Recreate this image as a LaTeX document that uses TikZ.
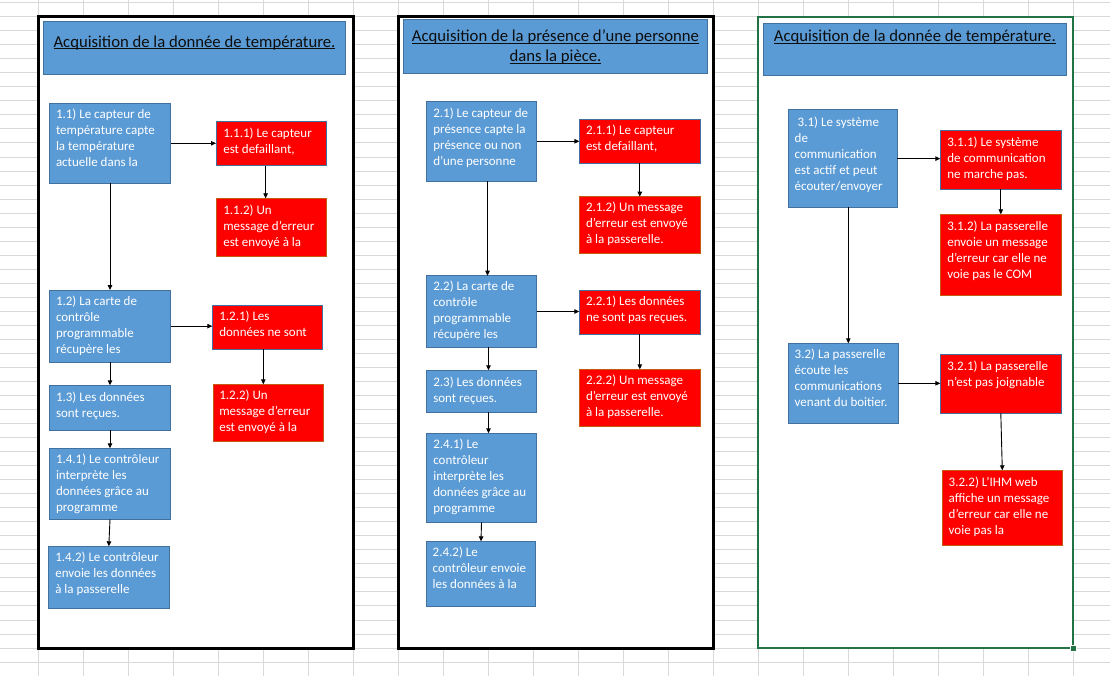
\documentclass[tikz,border=0pt]{standalone}
\usepackage{fontspec}
\setmainfont{Carlito}
\usetikzlibrary{arrows.meta,calc}
\definecolor{boxblue}{HTML}{5B9BD5}
\definecolor{edgeblue}{HTML}{41719C}
\definecolor{boxred}{HTML}{FF0000}
\definecolor{edgebrown}{HTML}{C55A11}
\definecolor{gridgray}{HTML}{D9D9D9}
\definecolor{xlgreen}{HTML}{217346}
\definecolor{titleink}{HTML}{0D0D0D}
\newlength\ulwd
\newcommand\ulined[1]{\settowidth\ulwd{#1}\rlap{\rule[-2.2pt]{\ulwd}{1pt}}#1}
\newcommand\mkbox[6]{%
  \pgfmathsetmacro\bw{#5-#3}\pgfmathsetmacro\bh{#6-#4}%
  \node[#1, anchor=north west, minimum width=\bw pt, minimum height=\bh pt] (#2) at (#3,#4) {};}
\tikzset{
  gridline/.style={draw=gridgray, line width=1pt},
  panel/.style={draw=black, line width=2.5pt, fill=white, inner sep=0pt, outer sep=0pt},
  greenpanel/.style={draw=xlgreen, line width=2pt, fill=white, inner sep=0pt, outer sep=0pt},
  titlebox/.style={draw=edgeblue, fill=boxblue, line width=1pt, inner sep=0pt, outer sep=0pt},
  bluebox/.style={draw=edgeblue, fill=boxblue, line width=1pt, inner sep=0pt, outer sep=0pt},
  redbox/.style={draw=edgeblue, fill=boxred, line width=1pt, inner sep=0pt, outer sep=0pt},
  redboxb/.style={draw=edgebrown, fill=boxred, line width=1pt, inner sep=0pt, outer sep=0pt},
  bodytxt/.style={anchor=north west, inner sep=0pt, outer sep=0pt, align=left, text=white,
    font=\fontsize{13}{16}\selectfont},
  titletxt/.style={anchor=north, inner sep=0pt, outer sep=0pt, align=center, text=titleink,
    font=\fontsize{16.7}{20}\selectfont},
  arr/.style={-{Triangle[length=5pt,width=4.5pt]}, line width=0.9pt, draw=black},
}
\begin{document}
\begin{tikzpicture}[x=1pt,y=-1pt]
\useasboundingbox (0,0) rectangle (1110,676);
\fill[white] (0,0) rectangle (1110,676);
% spreadsheet grid
\foreach \k in {0,...,23} \draw[gridline] (38.3+45*\k,0) -- (38.3+45*\k,676);
\foreach \k in {0,...,48} \draw[gridline] (0,2.7+14.03*\k) -- (1110,2.7+14.03*\k);
% panels
\mkbox{panel}{p1}{38.3}{16.7}{353.3}{648.3}
\mkbox{panel}{p2}{398.3}{16.7}{713.3}{648.3}
\mkbox{greenpanel}{p3}{758.3}{16.7}{1073.3}{648.3}
\node[fill=xlgreen, draw=white, line width=0.5pt, minimum size=5.5pt, inner sep=0pt] (hdl) at (p3.south east) {};
% titles
\mkbox{titlebox}{h1}{43.3}{21.7}{345.7}{74.3}
\mkbox{titlebox}{h2}{403.3}{20}{707.7}{73.3}
\mkbox{titlebox}{h3}{763.3}{23.3}{1066.3}{76}
\node[titletxt] (th1) at (194.5,33.3) {\strut\ulined{Acquisition de la donnée de température.}};
\node[titletxt] (th2) at (555.5,27.7) {\strut\ulined{Acquisition de la présence d’une personne}\\\ulined{dans la pièce.}};
\node[titletxt] (th3) at (914.8,27.7) {\strut\ulined{Acquisition de la donnée de température.}};
% column 1
\mkbox{bluebox}{b11}{49.3}{103.3}{170.7}{183.3}
\mkbox{redbox}{b111}{216}{121.7}{326.3}{166}
\mkbox{redboxb}{b112}{216}{198.3}{326.3}{256.3}
\mkbox{bluebox}{b12}{49.3}{290}{170.7}{362.3}
\mkbox{redbox}{b121}{212.3}{305.3}{322.3}{349.3}
\mkbox{redboxb}{b122}{213.3}{384.3}{323.3}{441}
\mkbox{bluebox}{b13}{49.3}{385.3}{170.7}{430}
\mkbox{bluebox}{b141}{49.3}{448.3}{170.7}{519.3}
\mkbox{bluebox}{b142}{48.3}{546.3}{169.3}{608.3}
\node[bodytxt] (t11) at (56,107.3) {\strut 1.1) Le capteur de\\température capte\\la température\\actuelle dans la};
\node[bodytxt] (t111) at (223.3,126.3) {\strut 1.1.1) Le capteur\\est defaillant,};
\node[bodytxt] (t112) at (223.3,203) {\strut 1.1.2) Un\\message d’erreur\\est envoyé à la};
\node[bodytxt] (t12) at (56,294) {\strut 1.2) La carte de\\contrôle\\programmable\\récupère les};
\node[bodytxt] (t121) at (219.3,309) {\strut 1.2.1) Les\\données ne sont};
\node[bodytxt] (t122) at (219.3,388) {\strut 1.2.2) Un\\message d’erreur\\est envoyé à la};
\node[bodytxt] (t13) at (56,390) {\strut 1.3) Les données\\sont reçues.};
\node[bodytxt] (t141) at (56,452.3) {\strut 1.4.1) Le contrôleur\\interprète les\\données grâce au\\programme};
\node[bodytxt] (t142) at (55.3,550) {\strut 1.4.2) Le contrôleur\\envoie les données\\à la passerelle};
% column 2
\mkbox{bluebox}{b21}{426.3}{101.3}{536.7}{181.3}
\mkbox{redbox}{b211}{579.3}{119.3}{700.3}{163.3}
\mkbox{redboxb}{b212}{579.3}{196.7}{700.3}{253.3}
\mkbox{bluebox}{b22}{426.3}{275.7}{536.7}{347.3}
\mkbox{redbox}{b221}{579.3}{290.7}{700.3}{334}
\mkbox{redboxb}{b222}{579.3}{369.3}{700.3}{426.3}
\mkbox{bluebox}{b23}{426.3}{370.3}{536.7}{412}
\mkbox{bluebox}{b241}{426.3}{433.3}{536.7}{522.3}
\mkbox{bluebox}{b242}{426.3}{541.3}{535.7}{606.3}
\node[bodytxt] (t21) at (433.3,106.3) {\strut 2.1) Le capteur de\\présence capte la\\présence ou non\\d’une personne};
\node[bodytxt] (t211) at (586,123) {\strut 2.1.1) Le capteur\\est defaillant,};
\node[bodytxt] (t212) at (586,200.3) {\strut 2.1.2) Un message\\d’erreur est envoyé\\à la passerelle.};
\node[bodytxt] (t22) at (433.3,279.7) {\strut 2.2) La carte de\\contrôle\\programmable\\récupère les};
\node[bodytxt] (t221) at (586,294) {\strut 2.2.1) Les données\\ne sont pas reçues.};
\node[bodytxt] (t222) at (586,373) {\strut 2.2.2) Un message\\d’erreur est envoyé\\à la passerelle.};
\node[bodytxt] (t23) at (433.3,375.3) {\strut 2.3) Les données\\sont reçues.};
\node[bodytxt] (t241) at (433.3,437) {\strut 2.4.1) Le\\contrôleur\\interprète les\\données grâce au\\programme};
\node[bodytxt] (t242) at (432.7,545) {\strut 2.4.2) Le\\contrôleur envoie\\les données à la};
% column 3
\mkbox{bluebox}{b31}{788.3}{110}{897.3}{207.3}
\mkbox{redbox}{b311}{940.3}{130.7}{1061.3}{189.3}
\mkbox{redboxb}{b312}{940.3}{214.3}{1061.3}{295.3}
\mkbox{bluebox}{b32}{788.3}{343.3}{898.3}{423.3}
\mkbox{redbox}{b321}{940.3}{354.3}{1061.3}{413.3}
\mkbox{redboxb}{b322}{942.3}{470.3}{1062.3}{545}
\node[bodytxt] (t31) at (794.7,115.3) {\strut\hspace{3pt}3.1) Le système\\de\\communication\\est actif et peut\\écouter/envoyer};
\node[bodytxt] (t311) at (947.3,135.3) {\strut 3.1.1) Le système\\de communication\\ne marche pas.};
\node[bodytxt] (t312) at (947.3,219) {\strut 3.1.2) La passerelle\\envoie un message\\d’erreur car elle ne\\voie pas le COM};
\node[bodytxt] (t32) at (794.7,347.3) {\strut 3.2) La passerelle\\écoute les\\communications\\venant du boitier.};
\node[bodytxt] (t321) at (947.3,359) {\strut 3.2.1) La passerelle\\n’est pas joignable};
\node[bodytxt] (t322) at (948.7,475) {\strut 3.2.2) L’IHM web\\affiche un message\\d’erreur car elle ne\\voie pas la};
% connectors column 1
\draw[arr] (b11.east) -- (b11.east -| b111.west);
\draw[arr] ([xshift=-5.5pt]b111.south) -- ([xshift=-5.5pt]b111.south |- b112.north);
\draw[arr] (b11.south) -- (b11.south |- b12.north);
\draw[arr] (b12.east) -- (b12.east -| b121.west);
\draw[arr] ([xshift=-4pt]b121.south) -- ([xshift=-4pt]b121.south |- b122.north);
\draw[arr] (b12.south) -- (b12.south |- b13.north);
\draw[arr] (b13.south) -- (b13.south |- b141.north);
\draw[arr] (b141.south) -- (b142.north);
% connectors column 2
\draw[arr] (b21.east) -- (b21.east -| b211.west);
\draw[arr] (b211.south) -- (b211.south |- b212.north);
\draw[arr] ([xshift=6pt]b21.south) -- ([xshift=6pt]b21.south |- b22.north);
\draw[arr] (b22.east) -- (b22.east -| b221.west);
\draw[arr] (b221.south) -- (b221.south |- b222.north);
\draw[arr] ([xshift=7pt]b22.south) -- ([xshift=7pt]b22.south |- b23.north);
\draw[arr] ([xshift=7pt]b23.south) -- ([xshift=7pt]b23.south |- b241.north);
\draw[arr] (b241.south) -- (b242.north);
% connectors column 3
\draw[arr] (b31.east) -- (b31.east -| b311.west);
\draw[arr] (b311.south) -- (b311.south |- b312.north);
\draw[arr] ([xshift=5.5pt]b31.south) -- ([xshift=5.5pt]b31.south |- b32.north);
\draw[arr] (b32.east) -- (b32.east -| b321.west);
\draw[arr] (b321.south) -- (b322.north);
\end{tikzpicture}
\end{document}
